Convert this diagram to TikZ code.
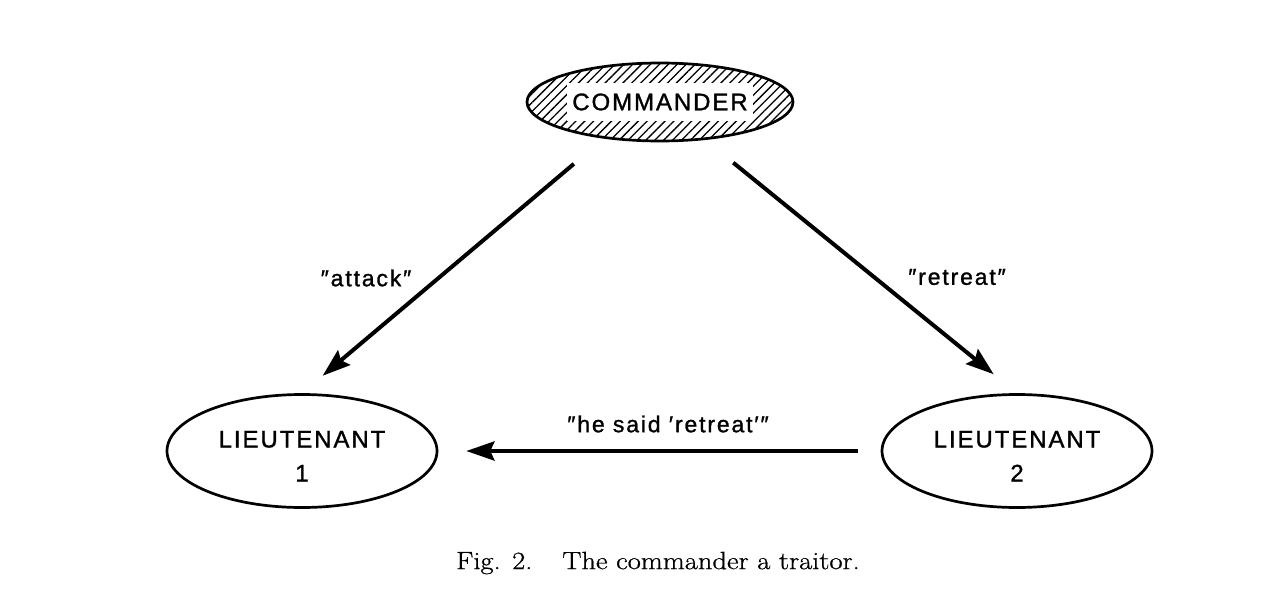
\documentclass[tikz,border=0pt]{standalone}
\usepackage{fontspec}
\newfontfamily\lab[LetterSpace=8,FakeBold=1.2]{Liberation Sans}
\newfontfamily\capfont[FakeStretch=1.14,FakeBold=0.8]{Latin Modern Roman}
\usetikzlibrary{shapes.geometric,patterns.meta,arrows.meta}
\begin{document}
\begin{tikzpicture}[x=1pt,y=-1pt,
  ell/.style={ellipse, draw, line width=2.7pt, inner sep=0pt, align=center,
    font=\lab\fontsize{24}{34}\selectfont},
  arr/.style={line width=4pt, -{Stealth[length=28pt,width=19pt,inset=4pt]}},
  lbl/.style={font=\lab\fontsize{23}{27}\selectfont, inner sep=0pt},
]
\useasboundingbox (0,0) rectangle (1280,599);
\node[ell, minimum width=266pt, minimum height=78pt,
  pattern={Lines[angle=45,distance=6.3pt,line width=1.3pt]},
  path picture={\fill[white] ([shift={(-93pt,-19pt)}]path picture bounding box.center)
     rectangle ([shift={(93pt,19pt)}]path picture bounding box.center);}]
  (cmd) at (660,102) {COMMANDER};
\node[ell, minimum width=270pt, minimum height=113pt] (l1) at (302,451)
  {\rule{0pt}{27pt}LIEUTENANT\\1};
\node[ell, minimum width=270pt, minimum height=113pt] (l2) at (1017,451)
  {\rule{0pt}{27pt}LIEUTENANT\\2};
\draw[arr, shorten <=40pt, shorten >=27pt] (cmd.213.4) -- (l1.north);
\draw[arr, shorten <=37pt, shorten >=30pt] (cmd.320.7) -- (l2.north);
\draw[arr, shorten <=23pt, shorten >=28pt] (l2.west) -- (l1.east);
\node[lbl] (la) at (366,278) {″attack″};
\node[lbl] (lr) at (957,277) {″retreat″};
\node[lbl] (lh) at (668,424) {″he said ′retreat′″};
\node[inner sep=0pt, font=\capfont\fontsize{25}{29}\selectfont] (cap) at (658,563)
  {Fig. 2.\hspace{30pt}The commander a traitor.};
\end{tikzpicture}
\end{document}
